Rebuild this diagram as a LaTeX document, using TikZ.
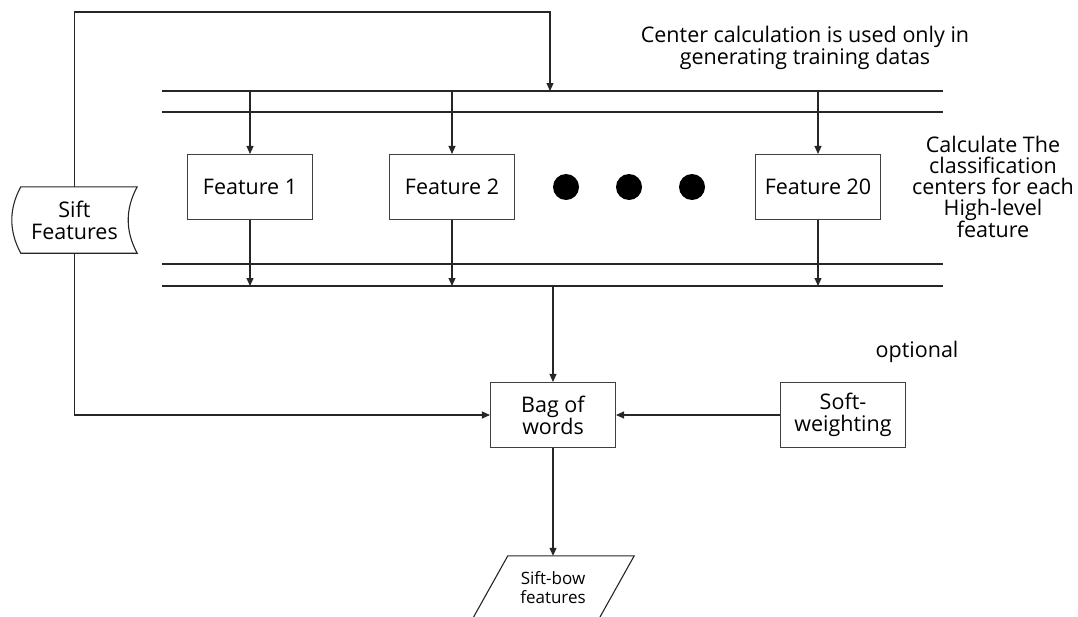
\documentclass[tikz,border=0pt]{standalone}
\usepackage{fontspec}
\setmainfont{Open Sans}
\usetikzlibrary{positioning, calc, arrows.meta}

\tikzset{
  line/.style={draw=black!85, line width=1.1pt},
  arr/.style={line, -{Triangle[length=8pt, width=7pt]}},
  featbox/.style={draw=black!75, line width=1.1pt, minimum width=125pt, minimum height=65pt,
    align=center, font=\fontsize{21.5}{22}\selectfont},
  note/.style={align=center, font=\fontsize{21.5}{22}\selectfont},
  dot/.style={circle, fill=black, inner sep=0pt, minimum size=26pt}
}

\begin{document}
\begin{tikzpicture}[x=1pt, y=-1pt]
  \useasboundingbox (0,0) rectangle (1078,616);

  % rails
  \coordinate (r1w) at (162,91);  \coordinate (r1e) at (943,91);
  \coordinate (r2w) at (162,112); \coordinate (r2e) at (943,112);
  \coordinate (r3w) at (162,264); \coordinate (r3e) at (943,264);
  \coordinate (r4w) at (162,286); \coordinate (r4e) at (943,286);
  \foreach \r in {1,2,3,4}
    \draw[line] (r\r w) -- (r\r e);

  % feature boxes
  \node[featbox] (f1) at (250,187) {Feature 1};
  \node[featbox] (f2) at (452,187) {Feature 2};
  \node[featbox] (f20) at (818,187) {Feature 20};
  \node[dot] (d1) at (566,187) {};
  \node[dot] (d2) at (629,187) {};
  \node[dot] (d3) at (692,187) {};

  \foreach \f in {f1,f2,f20} {
    \draw[arr] (\f |- r1w) -- (\f);
    \draw[arr] (\f) -- (\f |- r4w);
  }

  % sift features (stored data)
  \node[note, minimum width=125pt, minimum height=66pt] (sift) at (74.5,220) {Sift\\Features};
  \draw[line] ([xshift=9pt]sift.north west) -- (sift.north east)
    .. controls ([xshift=-12pt,yshift=-22pt]sift.north east) and ([xshift=-12pt,yshift=22pt]sift.south east) .. (sift.south east)
    -- ([xshift=9pt]sift.south west)
    .. controls ([xshift=-3pt,yshift=22pt]sift.south west) and ([xshift=-3pt,yshift=-22pt]sift.north west) .. cycle;

  \node[featbox] (bag) at (553,415) {Bag of\\words};
  \node[featbox] (soft) at (843,415) {Soft-\\weighting};
  \node[note] (opt) at (917,352) {optional};

  % output
  \node[align=center, font=\fontsize{17}{19}\selectfont, minimum width=126pt, minimum height=64pt] (bow) at (553,588) {Sift-bow\\features};
  \draw[line] ([xshift=18pt]bow.north west) -- ([xshift=18pt]bow.north east)
    -- ([xshift=-18pt]bow.south east) -- ([xshift=-18pt]bow.south west) -- cycle;

  \coordinate (top) at (550,12);
  \draw[arr] (sift.north) |- (top) -- (top |- r1w);
  \draw[arr] (sift.south) |- (bag);
  \draw[arr] (r4w -| bag) -- (bag);
  \draw[arr] (soft) -- (bag);
  \draw[arr] (bag) -- (bow);

  \node[note] (center) at (805,48) {Center calculation is used only in\\generating training datas};
  \node[note, font=\fontsize{21.5}{21}\selectfont] (calc) at (993,187) {Calculate The\\classification\\centers for each\\High-level\\feature};
\end{tikzpicture}
\end{document}
